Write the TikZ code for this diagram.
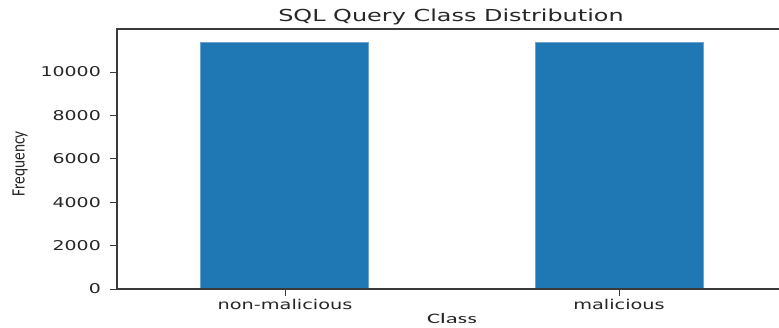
\documentclass[tikz,border=0pt]{standalone}
\usepackage{fontspec}
\setmainfont{DejaVu Sans}
\newfontfamily\carl{Carlito}
\definecolor{barblue}{HTML}{1F77B4}
\definecolor{baredge}{HTML}{6FA3CF}
\definecolor{axisgray}{HTML}{3A3A3A}
\definecolor{txt}{HTML}{262626}
\tikzset{
  bar/.style={fill=barblue, draw=baredge, line width=0.7pt},
  spine/.style={draw=axisgray, line width=1.1pt},
  tickline/.style={draw=axisgray, line width=1pt},
  ylab/.style={anchor=east, inner sep=0pt, text=txt, font=\fontsize{13.5}{14}\selectfont},
  xlab/.style={anchor=center, inner sep=0pt, text=txt, font=\fontsize{13.5}{14}\selectfont},
}
\begin{document}
\begin{tikzpicture}[x=1pt,y=-1pt]
\useasboundingbox (0,0) rectangle (779,327);
% bars
\path[bar] (200,42) rectangle (368,289);
\path[bar] (535,42) rectangle (703,289);
% spines
\coordinate (tl) at (117,29);
\coordinate (bl) at (117,289);
\coordinate (tr) at (779.5,29);
\coordinate (br) at (779.5,289);
\draw[spine] (tr) -- (tl) -- (bl) -- (br);
% y ticks
\foreach \v/\yy in {0/289,2000/245.6,4000/202.2,6000/158.8,8000/115.4,10000/72}{
  \coordinate (yt\v) at (117,\yy);
  \coordinate (ytl\v) at (110,\yy);
  \draw[tickline] (yt\v) -- (ytl\v);
  \node[ylab] (yl\v) at (101,\yy) {\scalebox{1.4}[1]{\v}};
}
% x ticks
\coordinate (xt1) at (285,289);
\coordinate (xt1b) at (285,296);
\coordinate (xt2) at (619,289);
\coordinate (xt2b) at (619,296);
\draw[tickline] (xt1) -- (xt1b);
\draw[tickline] (xt2) -- (xt2b);
\node[xlab] (xl1) at (285,304) {\scalebox{1.43}[1]{non-malicious}};
\node[xlab] (xl2) at (619,304) {\scalebox{1.43}[1]{malicious}};
% title
\node[anchor=center, inner sep=0pt, text=txt, font=\fontsize{16.5}{18}\selectfont] (title) at (451,17) {\scalebox{1.45}[1]{SQL Query Class Distribution}};
% axis labels
\node[anchor=center, inner sep=0pt, text=txt, font=\carl\fontsize{14.5}{15}\selectfont] (xlabel) at (452,319) {\scalebox{1.7}[1]{Class}};
\node[anchor=center, inner sep=0pt, text=txt, rotate=90, font=\carl\fontsize{13.5}{14}\selectfont] (ylabel) at (20,164) {\scalebox{1.14}[1.4]{Frequency}};
\end{tikzpicture}
\end{document}
